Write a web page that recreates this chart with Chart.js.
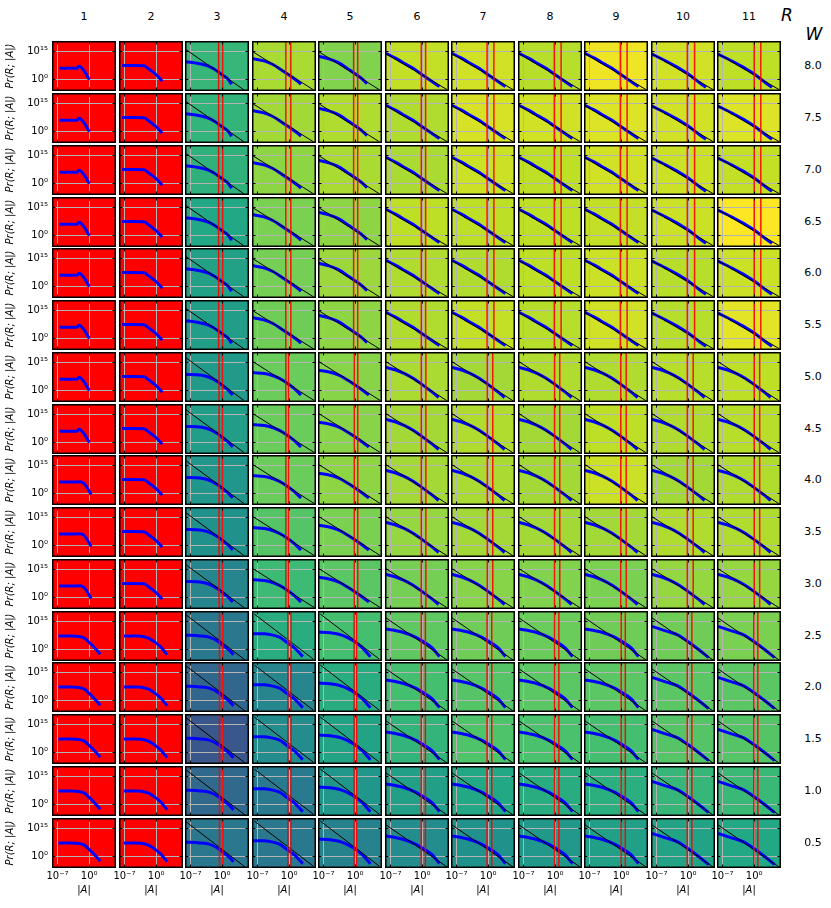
<!DOCTYPE html>
<html><head><meta charset="utf-8">
<script src="https://cdn.jsdelivr.net/npm/chart.js@4.4.1/dist/chart.umd.min.js"></script>
<style>
html,body{margin:0;padding:0;background:#fff;}
body{width:831px;height:908px;position:relative;overflow:hidden;font-family:'DejaVu Sans',sans-serif;}
canvas{position:absolute;}
.lbl{position:absolute;font-size:11px;color:#000;white-space:nowrap;transform:translate(-50%,-50%);line-height:1;}
.big{font-size:17px;font-style:italic;}
</style></head><body>
<script>
// ---------------- DATA ----------------
const rLabels = ['1','2','3','4','5','6','7','8','9','10','11'];
const wLabels = ['8.0','7.5','7.0','6.5','6.0','5.5','5.0','4.5','4.0','3.5','3.0','2.5','2.0','1.5','1.0','0.5'];
const xTickExps = [-7, 0];
const yTickExps = [0, 15];
const xRangeExp = [-8.2, 5.9];
const yRangeExp = [-6.2, 20.3];

// colour level (0..1 on viridis) of panels R=3..11; R=1,2 are red
const bgLevels = [
  [0.66,0.87,0.81,0.91,0.93,0.89,0.98,0.93,0.90],
  [0.65,0.86,0.88,0.88,0.94,0.93,0.95,0.93,0.95],
  [0.64,0.83,0.87,0.87,0.92,0.90,0.93,0.92,0.91],
  [0.60,0.80,0.83,0.90,0.90,0.90,0.91,0.92,1.00],
  [0.57,0.79,0.85,0.88,0.88,0.90,0.92,0.89,0.92],
  [0.55,0.78,0.83,0.88,0.91,0.89,0.93,0.89,0.96],
  [0.54,0.77,0.82,0.87,0.86,0.88,0.88,0.89,0.90],
  [0.55,0.77,0.82,0.86,0.88,0.86,0.90,0.88,0.89],
  [0.52,0.77,0.83,0.86,0.87,0.86,0.92,0.86,0.88],
  [0.50,0.73,0.80,0.84,0.86,0.86,0.86,0.88,0.88],
  [0.45,0.68,0.74,0.79,0.82,0.81,0.80,0.84,0.84],
  [0.40,0.62,0.70,0.75,0.78,0.77,0.78,0.78,0.80],
  [0.33,0.45,0.62,0.70,0.73,0.74,0.74,0.74,0.74],
  [0.27,0.48,0.58,0.65,0.72,0.71,0.70,0.73,0.73],
  [0.34,0.41,0.52,0.56,0.60,0.62,0.63,0.66,0.67],
  [0.40,0.40,0.44,0.48,0.50,0.53,0.56,0.58,0.60]
];

// blue curves: [log10|A|, log10 Pr]
const blueC1a = [[-6.5,5.8],[-4,5.8],[-2.7,5.9],[-2.2,6.9],[-1.65,6.0],[-0.9,3.7],[-0.4,1.6],[0,-0.2]];
const blueC1b = [[-6.6,6.0],[-4,6.0],[-2,6.1],[-1.2,5.3],[-0.5,3.2],[0.4,-0.6]];
const blueC1c = [[-6.8,7.0],[-4,7.0],[-2,6.7],[-1,5.8],[-0.2,4.1],[0.9,1.5],[2.4,-2.6]];
const blueC2a = [[-7.5,7.3],[-5,7.3],[-2.7,7.2],[-1.6,5.4],[-0.5,3.4],[0.5,1.2],[1.3,-1.0]];
const blueC2b = [[-7.1,7.0],[-4,7.0],[-2.7,6.7],[-1.6,5.8],[-0.5,4.1],[1,1.2],[2.4,-2.9]];
const blueC3T = [[-8.2,9.3],[-6,8.7],[-3.4,7.3],[-1.9,5.6],[0,2.4],[1.2,0.3],[2.1,-2.6]];
const blueC3M = [[-8.2,8.4],[-4.5,8.0],[-2.3,6.3],[-0.8,4.2],[0.6,1.5],[1.5,-0.3],[2.3,-2.5]];
const blueC3L = [[-8.2,7.5],[-4.9,7.1],[-2.7,6.3],[-0.9,4.2],[0.6,1.3],[1.7,-0.8],[2.5,-2.9]];
const blueC4T = [[-8.2,11.0],[-5.8,9.9],[-3.6,7.85],[-1.4,4.4],[0.5,1.4],[1.8,-0.9],[2.6,-2.6]];
const blueC4M = [[-8.2,9.4],[-4.4,8.4],[-2.15,6.3],[-0.5,3.9],[1,1.2],[2.6,-2.5]];
const blueC4L = [[-8.2,8.3],[-5.5,8.2],[-3.6,7.5],[-2,6.3],[-0.7,4.0],[1.2,0.6],[3.0,-3.9]];
const blueC5T = [[-8.2,12.3],[-5.8,10.8],[-3.6,8.7],[-1.4,5.2],[0.6,1.9],[2,-0.8],[2.6,-2.3]];
const blueC5M = [[-8.2,10.6],[-5.5,9.6],[-3.6,8.0],[-1.8,5.6],[0,2.8],[1.8,-0.2],[3.0,-2.5]];
const blueC5L = [[-8.2,9.2],[-5.5,8.8],[-3.6,8.0],[-2,6.6],[-0.7,4.9],[1.3,1.4],[3.35,-3.9]];
const blueC7T = [[-8.2,14.0],[-6,11.4],[-4.45,9.2],[-2,5.8],[-0.25,2.8],[2,-0.9],[3.8,-3.8]];
const blueC7M = [[-8.2,12.3],[-6,10.9],[-4,9.0],[-2,6.4],[0,3.0],[2,-0.6],[3.6,-3.8]];
const blueC7L = [[-8.2,10.9],[-4.45,9.2],[-1.5,6.5],[0.34,3.9],[2.2,0.8],[3.8,-3.9]];
const blueC10T = [[-8.2,13.6],[-5,9.8],[-2,5.9],[0,2.8],[2.5,-1.8],[3.9,-4.3]];
const blueC10L = [[-8.2,12.3],[-5,9.8],[-2.1,7.4],[0,4.0],[2.5,-0.5],[4.5,-4.4]];
const blueCurves = {C1a:blueC1a,C1b:blueC1b,C1c:blueC1c,C2a:blueC2a,C2b:blueC2b,
  C3T:blueC3T,C3M:blueC3M,C3L:blueC3L,C4T:blueC4T,C4M:blueC4M,C4L:blueC4L,
  C5T:blueC5T,C5M:blueC5M,C5L:blueC5L,C7T:blueC7T,C7M:blueC7M,C7L:blueC7L,C10T:blueC10T,C10L:blueC10L};

const blueTopRow = ['C1a','C2a','C3T','C4T','C5T','C7T','C7T','C7T','C7T','C10T','C10T'];
const blueMidRowA = ['C1a','C2a','C3M','C4M','C5M','C7M','C7M','C7M','C7M','C7M','C7M'];
const blueMidRowB = ['C1b','C2a','C3M','C4M','C5M','C7M','C7M','C7M','C7M','C7M','C7M'];
const blueLowRow = ['C1c','C2b','C3L','C4L','C5L','C7L','C7L','C7L','C7L','C10L','C10L'];
const blueMap = [blueTopRow,blueTopRow,blueTopRow,blueTopRow,blueTopRow,blueTopRow,
  blueMidRowA,blueMidRowA,blueMidRowB,blueMidRowB,blueMidRowB,
  blueLowRow,blueLowRow,blueLowRow,blueLowRow,blueLowRow];

// black reference lines: two points [log10|A|, log10 Pr]
const lineL3T = [[-8.2,16.1],[4.8,-5.6]];
const lineL3M = [[-8.2,17.6],[4.8,-5.4]];
const lineL3L = [[-8.2,18.7],[5.05,-5.7]];
const lineL45T = [[-8.2,14.9],[5.35,-5.6]];
const lineL45M = [[-8.2,15.5],[5.5,-5.4]];
const lineL45L = [[-7.7,18.7],[5.3,-5.2]];
const lineL7T = [[-8.2,13.8],[5.57,-5.6]];
const lineL7M = [[-8.2,15.5],[5.5,-5.6]];
const lineL7L = [[-8.2,17.0],[5.5,-5.7]];
const rowGroup = ['T','T','T','T','T','T','M','M','M','M','M','L','L','L','L','L'];
const lineMap = {
  T:[null,null,lineL3T,lineL45T,lineL45T,lineL7T,lineL7T,lineL7T,lineL7T,lineL7T,lineL7T],
  M:[null,null,lineL3M,lineL45M,lineL45M,lineL7M,lineL7M,lineL7M,lineL7M,lineL7M,lineL7M],
  L:[null,null,lineL3L,lineL45L,lineL45L,lineL7L,lineL7L,lineL7L,lineL7L,lineL7L,lineL7L]
};
// red vertical lines (log10|A|) for R=3..11
const redT = [[-0.8,0.1],[-0.75,0.35],[-0.35,0.55],[-0.2,0.75],[-0.25,1.25],[-0.2,1.3],[-0.2,1.3],[-0.2,1.4],[0,1.45]];
const redM = [[-0.7,0.05],[-0.74,-0.14],[-0.2,0.56],[-0.2,0.8],[-0.2,1.0],[-0.15,1.0],[-0.1,1.1],[-0.2,1.1],[0,1.2]];
const redL = [[-0.6,0.12],[-0.3,0.4],[-0.25,0.3],[-0.2,0.7],[-0.25,0.78],[-0.14,0.8],[0,0.9],[-0.2,0.8],[-0.1,0.8]];
const redMap = {T:redT, M:redM, L:redL};

// ---------------- RENDER ----------------
const VIRIDIS = ['#440154','#482475','#414487','#355f8d','#2a788e','#21918c','#22a884','#44bf70','#7ad151','#bddf26','#fde725'];
function hexRgb(h){return [parseInt(h.slice(1,3),16),parseInt(h.slice(3,5),16),parseInt(h.slice(5,7),16)];}
function viridis(t){
  t=Math.max(0,Math.min(1,t)); const p=t*10, i=Math.min(9,Math.floor(p)), f=p-i;
  const a=hexRgb(VIRIDIS[i]), b=hexRgb(VIRIDIS[i+1]);
  return 'rgb('+a.map((v,k)=>Math.round(v+(b[k]-v)*f)).join(',')+')';
}
const SUP={'-':'\u207B','0':'\u2070','1':'\u00B9','2':'\u00B2','3':'\u00B3','4':'\u2074','5':'\u2075','6':'\u2076','7':'\u2077','8':'\u2078','9':'\u2079'};
function powLabel(v){const e=Math.round(Math.log10(v));return '10'+String(e).split('').map(c=>SUP[c]).join('');}
const pts = arr => arr.map(p=>({x:Math.pow(10,p[0]), y:Math.pow(10,p[1])}));

Chart.defaults.font.family = "'DejaVu Sans', sans-serif";
Chart.defaults.color = '#000';

const deco = {
  id:'deco',
  beforeDraw(chart, args, opts){
    const {ctx, chartArea:a} = chart;
    ctx.save(); ctx.fillStyle = opts.bg;
    ctx.fillRect(a.left, a.top, a.right-a.left, a.bottom-a.top); ctx.restore();
  },
  afterDraw(chart){
    const {ctx, chartArea:a, scales:{x,y}} = chart;
    ctx.save(); ctx.strokeStyle='#000'; ctx.lineWidth=1; ctx.beginPath();
    x.ticks.forEach(t=>{const p=Math.round(x.getPixelForValue(t.value))+0.5;
      ctx.moveTo(p,a.top); ctx.lineTo(p,a.top+3.5); ctx.moveTo(p,a.bottom); ctx.lineTo(p,a.bottom-3.5);});
    y.ticks.forEach(t=>{const p=Math.round(y.getPixelForValue(t.value))+0.5;
      ctx.moveTo(a.left,p); ctx.lineTo(a.left+3.5,p); ctx.moveTo(a.right,p); ctx.lineTo(a.right-3.5,p);});
    ctx.stroke();
    ctx.lineWidth=1.5;
    ctx.strokeRect(a.left+0.75, a.top+0.75, a.right-a.left-1.5, a.bottom-a.top-1.5);
    ctx.restore();
  }
};

const PW=64, PH=50;
function panelLeft(c){return Math.round(52 + c*66.5);}
function panelTop(r){return Math.round(41.3 + r*51.76);}

function addLabel(text, x, y, cls){
  const d=document.createElement('div'); d.className='lbl'+(cls?' '+cls:''); d.textContent=text;
  d.style.left=x+'px'; d.style.top=y+'px'; document.body.appendChild(d);
}

for(let r=0;r<wLabels.length;r++){
  for(let c=0;c<rLabels.length;c++){
    const isLeft=c===0, isBottom=r===wLabels.length-1;
    const padL = (isBottom && !isLeft) ? 14 : 0;
    const yW = isLeft ? 52 : 0;
    const xH = isBottom ? 34 : 0;
    const w = PW + yW + padL, h = PH + xH;
    const cv=document.createElement('canvas');
    cv.width=w; cv.height=h; cv.style.width=w+'px'; cv.style.height=h+'px';
    cv.style.left=(panelLeft(c)-yW-padL)+'px'; cv.style.top=panelTop(r)+'px';
    document.body.appendChild(cv);

    const g=rowGroup[r];
    const datasets=[];
    if(c>=2){
      const red=redMap[g][c-2];
      red.forEach(v=>datasets.push({data:pts([[v,-12],[v,26]]), borderColor:'rgba(255,0,0,0.9)', borderWidth:1.5}));
    }
    const ln=lineMap[g][c];
    if(ln) datasets.push({data:pts(ln), borderColor:'#000', borderWidth:1});
    datasets.push({data:pts(blueCurves[blueMap[r][c]]), borderColor:'#0000ff', borderWidth:3, cubicInterpolationMode:'monotone'});
    datasets.forEach(d=>{d.pointRadius=0; d.fill=false; d.clip=0;});

    const bg = c<2 ? '#ff0000' : viridis(bgLevels[r][c-2]);
    new Chart(cv,{
      type:'line',
      data:{datasets},
      plugins:[deco],
      options:{
        responsive:false, animation:false, devicePixelRatio:1, events:[],
        layout:{padding:{left:padL,top:0,right:0,bottom:0}},
        plugins:{legend:{display:false}, tooltip:{enabled:false}, deco:{bg}},
        scales:{
          x:{type:'logarithmic', position:'bottom', min:Math.pow(10,xRangeExp[0]), max:Math.pow(10,xRangeExp[1]),
            afterBuildTicks:s=>{s.ticks=xTickExps.map(e=>({value:Math.pow(10,e)}));},
            afterFit:s=>{s.height=xH; s.paddingLeft=0; s.paddingRight=0;},
            ticks:{display:isBottom, callback:v=>powLabel(v), font:{size:10}, padding:2, maxRotation:0, autoSkip:false, color:'#000'},
            grid:{color:'#b4b4b4', lineWidth:1, drawTicks:false},
            border:{display:false},
            title:{display:isBottom, text:'|A|', font:{size:10, style:'italic'}, padding:{top:0,bottom:6}, color:'#000'}
          },
          y:{type:'logarithmic', position:'left', min:Math.pow(10,yRangeExp[0]), max:Math.pow(10,yRangeExp[1]),
            afterBuildTicks:s=>{s.ticks=yTickExps.map(e=>({value:Math.pow(10,e)}));},
            afterFit:s=>{s.width=yW; s.paddingTop=0; s.paddingBottom=0;},
            ticks:{display:isLeft, callback:v=>powLabel(v), font:{size:10}, padding:4, autoSkip:false, color:'#000'},
            grid:{color:'#b4b4b4', lineWidth:1, drawTicks:false},
            border:{display:false},
            title:{display:isLeft, text:'Pr(R; |A|)', font:{size:10, style:'italic'}, padding:{top:4,bottom:0}, color:'#000'}
          }
        }
      }
    });
  }
}
// headers and row labels
rLabels.forEach((t,c)=>addLabel(t, panelLeft(c)+PW/2, 15.5));
wLabels.forEach((t,r)=>addLabel(t, 813, panelTop(r)+PH/2-1.5));
addLabel('R', 787, 14.5, 'big');
addLabel('W', 814, 34, 'big');
</script>
</body></html>
